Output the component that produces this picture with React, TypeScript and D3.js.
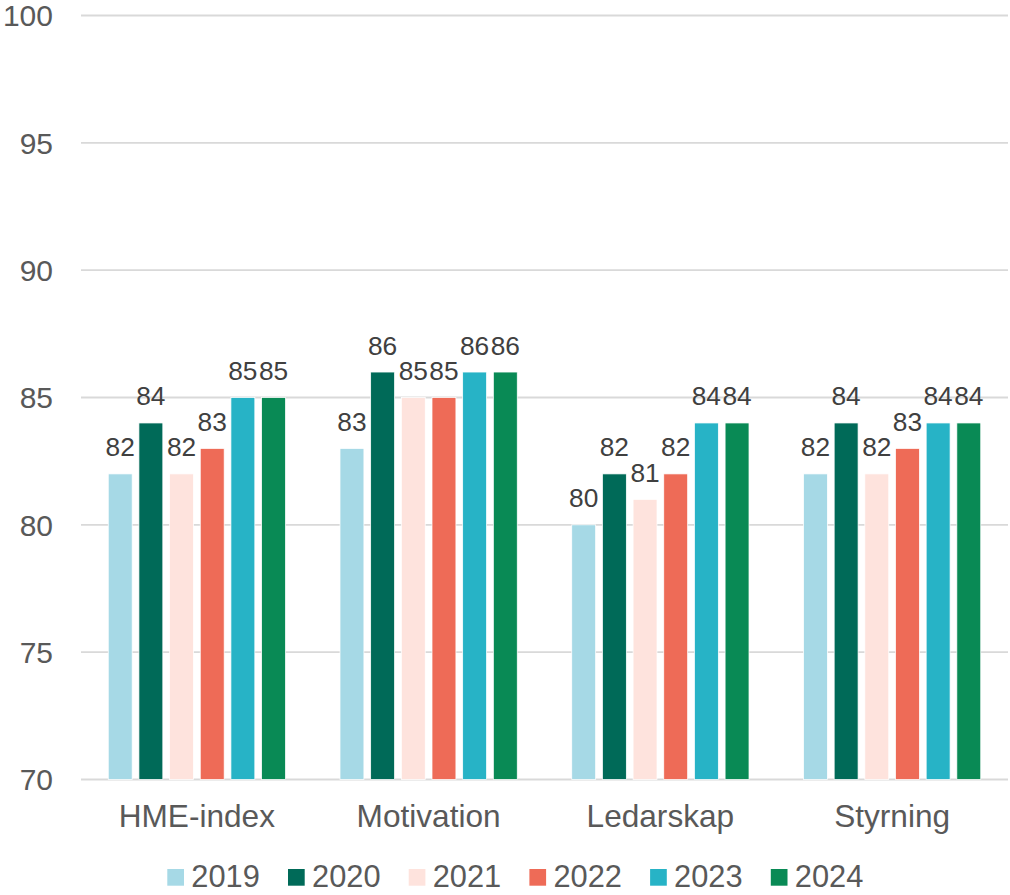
import React from "react";
import * as d3 from "d3";

const categories = ["HME-index", "Motivation", "Ledarskap", "Styrning"];
const years = ["2019", "2020", "2021", "2022", "2023", "2024"];
const values2019 = [82, 83, 80, 82];
const values2020 = [84, 86, 82, 84];
const values2021 = [82, 85, 81, 82];
const values2022 = [83, 85, 82, 83];
const values2023 = [85, 86, 84, 84];
const values2024 = [85, 86, 84, 84];
const seriesValues = [values2019, values2020, values2021, values2022, values2023, values2024];
const colors = ["#A6D9E6", "#006A58", "#FEE3DD", "#EE6B57", "#27B3C6", "#098A55"];
const yTicks = [70, 75, 80, 85, 90, 95, 100];

const W = 1010;
const H = 895;
const FONT = "'Liberation Sans', Arial, Helvetica, sans-serif";

export default function App() {
  const plotLeft = 81;
  const plotRight = 1008;
  const y = d3.scaleLinear().domain([70, 100]).range([779.5, 15.5]);
  const x0 = d3
    .scaleBand<string>()
    .domain(categories)
    .range([plotLeft, plotRight])
    .paddingInner(0.206)
    .paddingOuter(0.103);
  const x1 = d3
    .scaleBand<string>()
    .domain(years)
    .range([0, x0.bandwidth()])
    .paddingInner(0.22)
    .paddingOuter(0.11);

  const legendX = d3.scaleBand<string>().domain(years).range([167.3, 167.3 + 120.7 * 6]);

  return (
    <svg
      width={W}
      height={H}
      style={{ position: "absolute", left: 0, top: 0, display: "block", background: "#fff" }}
      fontFamily={FONT}
    >
      <rect x={0} y={0} width={W} height={H} fill="#fff" />
      {yTicks.map((t) => (
        <g key={t}>
          <line x1={plotLeft} x2={plotRight} y1={y(t)} y2={y(t)} stroke="#D9D9D9" strokeWidth={1.8} />
          <text x={53} y={y(t)} dy="0.36em" textAnchor="end" fontSize={30} fill="#595959">
            {t}
          </text>
        </g>
      ))}
      {categories.map((c, ci) => (
        <g key={c} transform={`translate(${x0(c)},0)`}>
          {years.map((yr, si) => {
            const v = seriesValues[si][ci];
            const bx = x1(yr)!;
            const bw = x1.bandwidth();
            return (
              <g key={yr}>
                <rect
                  x={bx}
                  y={y(v)}
                  width={bw}
                  height={y(70) - y(v)}
                  fill={colors[si]}
                  stroke="#fff"
                  strokeWidth={0.75}
                />
                <text
                  x={bx + bw / 2}
                  y={y(v) - 17.5}
                  textAnchor="middle"
                  fontSize={26.3}
                  fill="#404040"
                >
                  {v}
                </text>
              </g>
            );
          })}
          <text
            x={x0.bandwidth() / 2}
            y={827}
            textAnchor="middle"
            fontSize={31.6}
            fill="#595959"
          >
            {c}
          </text>
        </g>
      ))}
      {years.map((yr, i) => (
        <g key={yr} transform={`translate(${legendX(yr)},0)`}>
          <rect x={0} y={869} width={16.7} height={16.7} fill={colors[i]} />
          <text x={24} y={887} fontSize={30.8} fill="#595959">
            {yr}
          </text>
        </g>
      ))}
    </svg>
  );
}
